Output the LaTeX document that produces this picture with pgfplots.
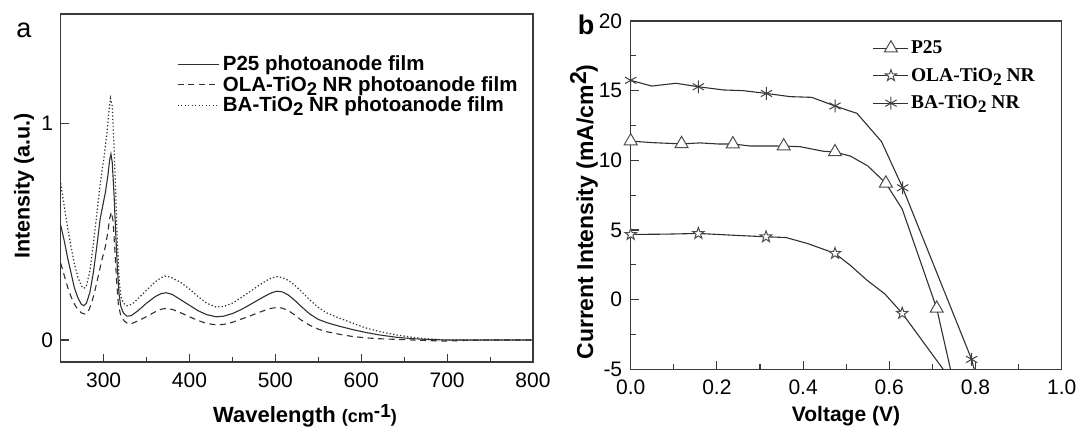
\documentclass[border=0pt]{standalone}
\usepackage{fontspec}
\setmainfont{Liberation Sans}
\newfontfamily\timesfont{Liberation Serif}
\usepackage{pgfplots}
\pgfplotsset{compat=1.18}
\definecolor{axc}{HTML}{3A3A3A}
\definecolor{lc}{HTML}{303030}
\newcommand\subtwo{\raisebox{-4pt}{\scalebox{0.9}{2}}}
\pgfdeclareplotmark{ostar}{%
  \pgfpathmoveto{\pgfpointpolar{90}{\pgfplotmarksize}}%
  \pgfpathlineto{\pgfpointpolar{126}{0.4\pgfplotmarksize}}%
  \pgfpathlineto{\pgfpointpolar{162}{\pgfplotmarksize}}%
  \pgfpathlineto{\pgfpointpolar{198}{0.4\pgfplotmarksize}}%
  \pgfpathlineto{\pgfpointpolar{234}{\pgfplotmarksize}}%
  \pgfpathlineto{\pgfpointpolar{270}{0.4\pgfplotmarksize}}%
  \pgfpathlineto{\pgfpointpolar{306}{\pgfplotmarksize}}%
  \pgfpathlineto{\pgfpointpolar{342}{0.4\pgfplotmarksize}}%
  \pgfpathlineto{\pgfpointpolar{18}{\pgfplotmarksize}}%
  \pgfpathlineto{\pgfpointpolar{54}{0.4\pgfplotmarksize}}%
  \pgfpathclose
  \pgfusepathqfillstroke
}

\pgfplotstableread{
wl p
250 0.53
254 0.46
258 0.38
262 0.31
266 0.24
270 0.195
274 0.165
277 0.158
280 0.17
284 0.22
288 0.31
292 0.43
296 0.56
299 0.62
302 0.68
305 0.76
307 0.83
308.5 0.858
310 0.82
312 0.68
314 0.50
316 0.33
318 0.21
320 0.155
323 0.125
327 0.110
332 0.112
340 0.135
350 0.170
360 0.200
367 0.214
373 0.218
380 0.210
390 0.185
400 0.160
410 0.135
420 0.117
431 0.107
440 0.110
450 0.122
460 0.140
470 0.162
480 0.185
490 0.207
497 0.220
502 0.225
508 0.222
515 0.208
522 0.185
530 0.155
540 0.120
550 0.095
560 0.080
575 0.063
590 0.048
605 0.035
620 0.024
640 0.013
660 0.006
680 0.002
700 0.0
750 0.0
800 0.0
}\tabP

\pgfplotstableread{
wl p
250 0.354
254 0.30
258 0.245
262 0.20
266 0.165
270 0.14
274 0.125
278 0.120
282 0.13
286 0.17
290 0.23
294 0.30
298 0.37
302 0.43
305 0.50
307 0.56
309 0.59
311 0.55
313 0.42
315 0.28
317 0.17
320 0.11
324 0.088
328 0.076
332 0.075
340 0.088
350 0.108
360 0.130
367 0.142
373 0.146
380 0.141
390 0.125
400 0.107
410 0.090
420 0.076
431 0.070
440 0.072
450 0.082
460 0.096
470 0.110
480 0.126
490 0.140
496 0.147
502 0.150
508 0.147
515 0.136
522 0.117
530 0.092
540 0.068
550 0.050
560 0.038
575 0.026
590 0.016
605 0.010
620 0.006
640 0.003
660 0.0
680 -0.003
700 -0.005
720 -0.002
750 0
800 0
}\tabO

\pgfplotstableread{
wl p
250 0.723
254 0.62
258 0.52
262 0.43
266 0.35
270 0.29
274 0.25
277 0.238
280 0.25
284 0.32
288 0.44
292 0.58
296 0.72
300 0.83
304 0.96
306 1.05
308 1.115
310 1.08
312 0.90
314 0.68
316 0.45
318 0.28
320 0.20
323 0.17
327 0.158
333 0.165
340 0.190
350 0.230
360 0.268
366 0.285
371 0.295
378 0.290
390 0.265
400 0.235
410 0.200
420 0.170
431 0.152
440 0.155
450 0.170
460 0.195
470 0.222
480 0.250
490 0.275
496 0.287
502 0.292
508 0.288
515 0.275
522 0.255
530 0.225
540 0.185
550 0.150
560 0.125
575 0.100
590 0.078
605 0.056
620 0.040
640 0.024
660 0.012
680 0.005
700 0.0
800 0.0
}\tabB

\pgfplotstableread{
v j
0 11.38
0.05 11.27
0.118 11.18
0.161 11.25
0.204 11.17
0.237 11.17
0.277 11.03
0.323 11.03
0.355 11.02
0.393 10.98
0.447 10.65
0.474 10.6
0.51 10.3
0.55 9.6
0.592 8.35
0.63 6.5
0.71 -0.63
0.742 -5
}\tabJP

\pgfplotstableread{
v j
0 4.68
0.08 4.70
0.157 4.75
0.24 4.62
0.314 4.51
0.36 4.46
0.41 4.03
0.474 3.32
0.51 2.45
0.548 1.4
0.59 0.4
0.63 -0.98
0.725 -5
}\tabJO

\pgfplotstableread{
v j
0 15.74
0.049 15.33
0.105 15.53
0.157 15.28
0.215 15.05
0.261 15.0
0.315 14.8
0.37 14.57
0.42 14.52
0.474 13.9
0.525 13.37
0.582 11.34
0.631 8.03
0.791 -4.29
0.797 -5
}\tabJB

\begin{document}
\begin{tikzpicture}
\path[use as bounding box] (0pt,0pt) rectangle (1079pt,428pt);

\begin{axis}[
  at={(60.7pt,66pt)}, anchor=south west, scale only axis,
  width=472.3pt, height=348pt,
  xmin=250, xmax=800, ymin=-0.1015, ymax=1.504,
  axis line style={axc, line width=1.3pt},
  tick style={axc, line width=1.1pt},
  tick align=inside, xtick pos=bottom, ytick pos=left,
  major tick length=8pt, minor tick length=5pt,
  xtick={300,400,500,600,700,800}, minor xtick={350,450,550,650,750},
  xticklabels={300,400,500,600,700,800},
  ytick={0,1}, yticklabels={0,1},
  tick label style={font=\fontsize{21}{21}\selectfont},
  xticklabel style={yshift=-7pt},
  yticklabel style={xshift=-4pt},
  /pgf/number format/assume math mode=true,
  legend cell align=left,
  legend image code/.code={\draw[#1] (0pt,0pt) -- (41.3pt,0pt);},
  legend style={at={(axis description cs:0.2456,0.886)}, anchor=north west,
    draw=none, fill=none, inner sep=0pt,
    font=\bfseries\fontsize{20.5}{21}\selectfont,
    nodes={inner xsep=3.5pt, inner ysep=0.6pt, text height=16.5pt, text depth=2.8pt}},
]
\addplot[lc, line width=1.1pt] table[x=wl,y=p] {\tabP};
\addlegendentry{P25 photoanode film}
\addplot[lc, line width=1.1pt, dash pattern=on 6pt off 4.5pt] table[x=wl,y=p] {\tabO};
\addlegendentry{OLA-TiO\subtwo{} NR photoanode film}
\addplot[lc, line width=1.2pt, dash pattern=on 1.3pt off 2.2pt] table[x=wl,y=p] {\tabB};
\addlegendentry{BA-TiO\subtwo{} NR photoanode film}
\end{axis}

\begin{axis}[
  at={(630.7pt,58.7pt)}, anchor=south west, scale only axis,
  width=431pt, height=348.3pt,
  xmin=0, xmax=1, ymin=-5, ymax=20,
  axis line style={axc, line width=1.3pt},
  tick style={axc, line width=1.1pt},
  tick align=inside, xtick pos=bottom, ytick pos=left,
  major tick length=8pt, minor tick length=5pt,
  xtick={0,0.2,0.4,0.6,0.8,1.0}, minor xtick={0.1,0.3,0.5,0.7,0.9},
  xticklabels={0.0,0.2,0.4,0.6,0.8,1.0},
  ytick={-5,0,5,10,15,20}, minor ytick={-2.5,2.5,7.5,12.5,17.5},
  yticklabels={-5,0,5,10,15,20},
  tick label style={font=\fontsize{21}{21}\selectfont},
  xticklabel style={yshift=-7pt},
  yticklabel style={xshift=-5pt},
  /pgf/number format/assume math mode=true,
  legend cell align=left,
  legend image code/.code={\draw[#1, mark indices={2}] plot coordinates {(0pt,0pt) (17.5pt,0pt) (35pt,0pt)};},
  legend style={at={(axis description cs:0.5615,0.962)}, anchor=north west,
    draw=none, fill=none, inner sep=0pt,
    font=\timesfont\bfseries\fontsize{19.5}{20}\selectfont,
    nodes={inner xsep=2pt, inner ysep=1pt, text height=18.5pt, text depth=7pt}},
]
\addplot[lc, line width=1.1pt, mark=triangle*, mark size=7.5pt,
  mark options={solid, fill=white, draw=black!70, line width=1pt},
  mark indices={1,3,6,9,12,15,17}] table[x=v,y=j] {\tabJP};
\addlegendentry{P25}
\addplot[lc, line width=1.1pt, mark=ostar, mark size=6pt,
  mark options={solid, fill=white, draw=black!70, line width=1pt},
  mark indices={1,3,5,8,12}] table[x=v,y=j] {\tabJO};
\addlegendentry{OLA-TiO\subtwo{} NR}
\addplot[lc, line width=1.1pt, mark=asterisk, mark size=6.5pt,
  mark options={solid, draw=black!75, line width=1pt},
  mark indices={1,4,7,10,13,14}] table[x=v,y=j] {\tabJB};
\addlegendentry{BA-TiO\subtwo{} NR}
\end{axis}

\node[font=\fontsize{27}{27}\selectfont] at (24pt,398pt) {a};
\node[font=\bfseries\fontsize{27}{27}\selectfont] at (586pt,403pt) {b};
\node[rotate=90, font=\bfseries\fontsize{21.5}{21}\selectfont] at (24pt,242pt) {Intensity (a.u.)};
\node[rotate=90, font=\bfseries\fontsize{23}{23}\selectfont] at (584pt,216pt) {Current Intensity (mA/cm\raisebox{7pt}{2})};
\node[anchor=base, font=\bfseries\fontsize{22}{22}\selectfont] at (305pt,5.3pt) {Wavelength {\fontsize{18}{18}\selectfont (cm\raisebox{5pt}{\fontsize{19}{19}\selectfont -1})}};
\node[anchor=base, font=\bfseries\fontsize{21}{21}\selectfont] at (846pt,6.5pt) {Voltage (V)};
\end{tikzpicture}
\end{document}
